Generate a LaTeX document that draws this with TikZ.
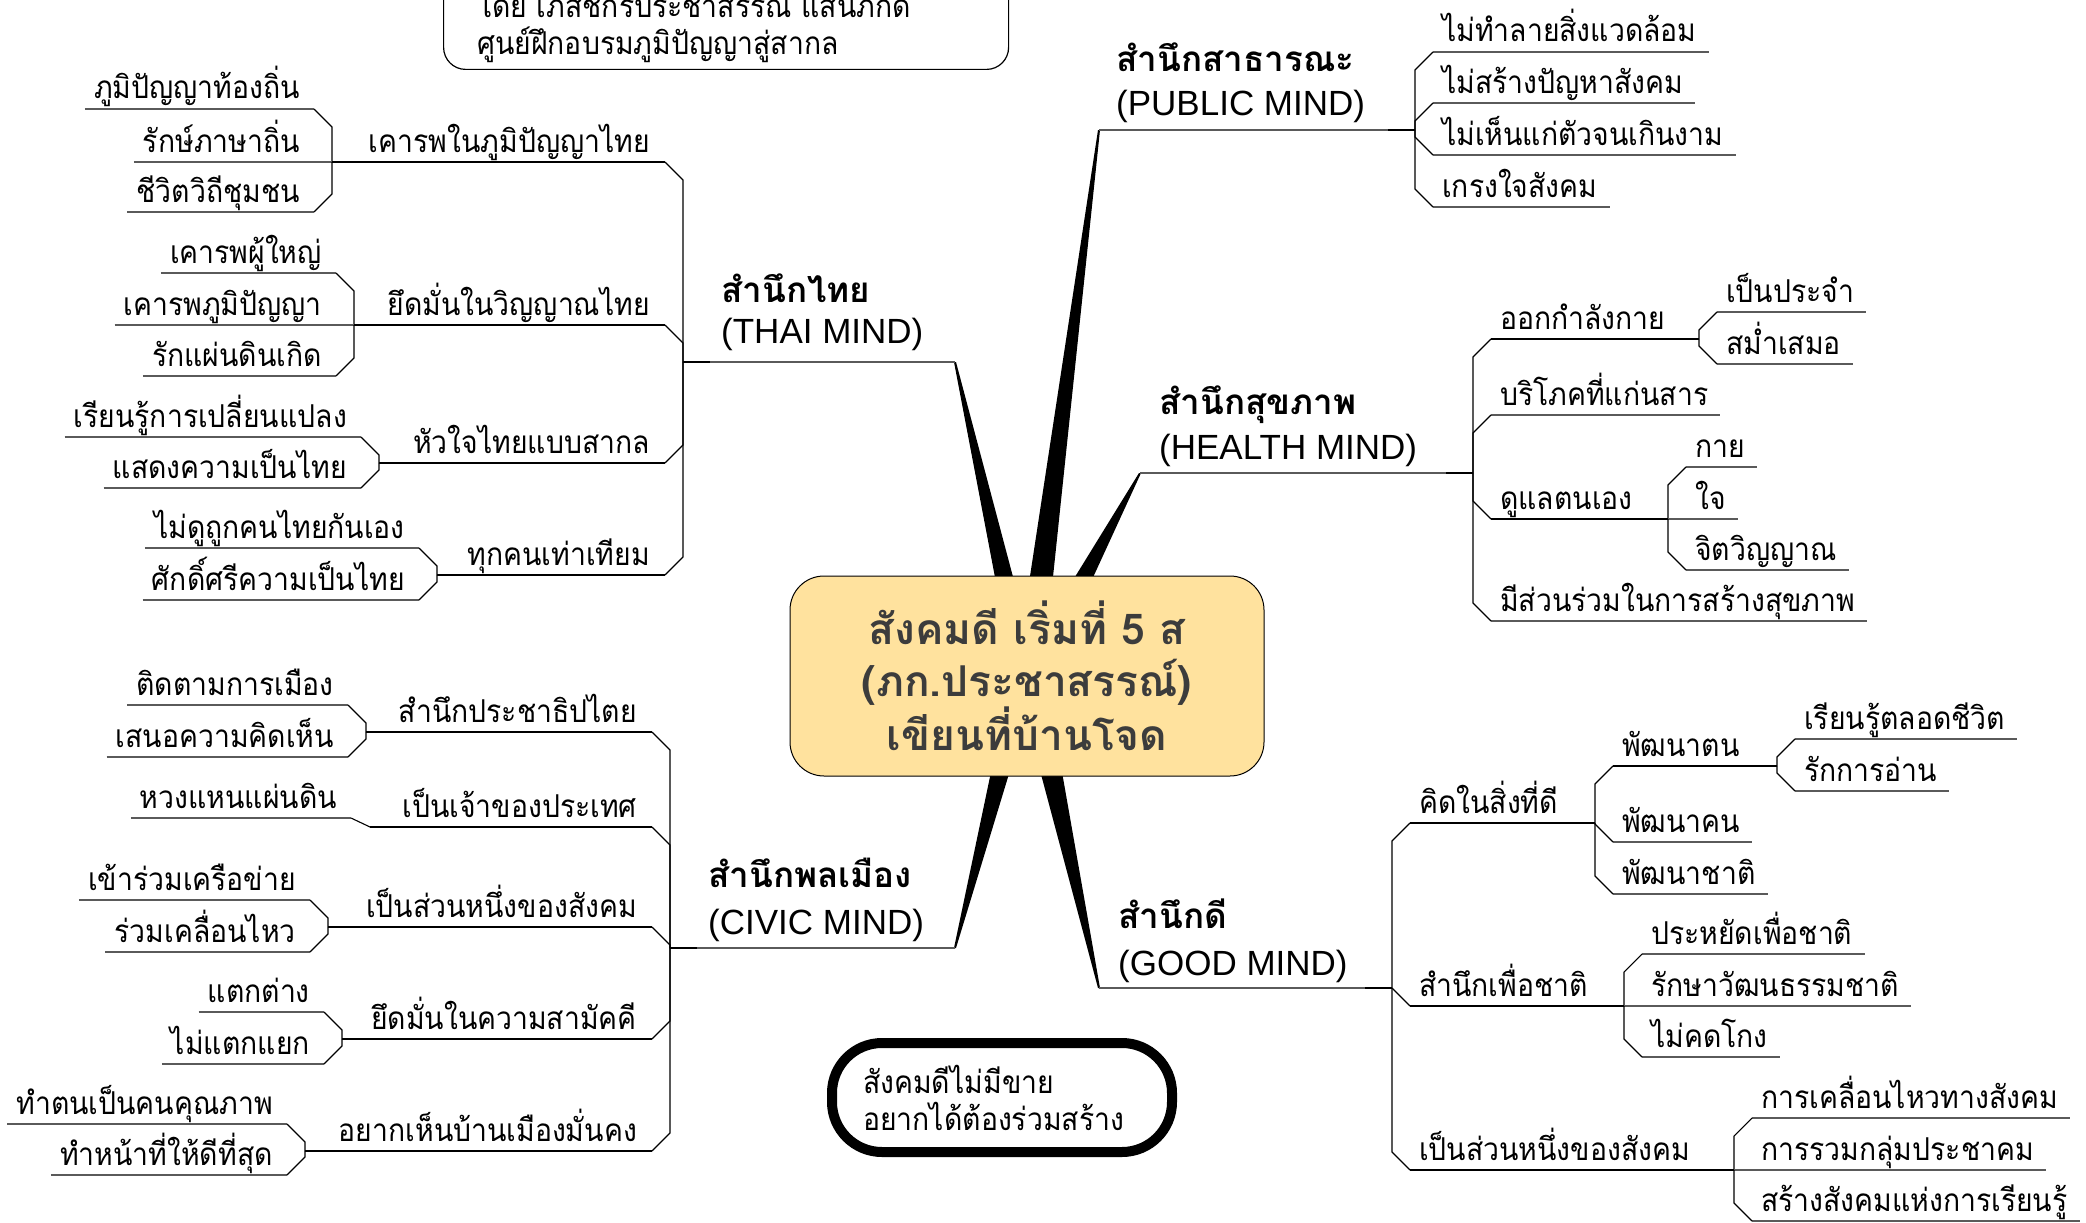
\documentclass[tikz,border=0pt]{standalone}
\usepackage{fontspec}
\newfontfamily\thaifont[Script=Thai]{Loma}
\newfontfamily\thainarrow[Script=Thai,FakeStretch=0.9]{Loma}
\newfontfamily\latinfont{Liberation Sans}
\usetikzlibrary{calc}
\definecolor{hubfill}{HTML}{FFE29E}
\definecolor{hubtext}{HTML}{3C3C3C}
\definecolor{lgray}{HTML}{5A5A5A}
\tikzset{
  lf/.style={font=\thainarrow\fontsize{31.5}{37}\selectfont, inner sep=0pt},
  mth/.style={font=\thaifont\bfseries\fontsize{35}{40}\selectfont, inner sep=0pt},
  men/.style={font=\latinfont\fontsize{35}{40}\selectfont, inner sep=0pt},
  ulf/.style={draw=lgray, line width=1.8pt},
  ulp/.style={draw=black, line width=1.5pt},
  brk/.style={draw=black, line width=1.1pt},
  jnt/.style={draw=black, line width=2.6pt},
  wdg/.style={fill=black, draw=none},
}
\newcommand\mmLeafL[4]{%
  \node[lf,anchor=base east] (#1) at ({#2-14},{#3-10}) {#4};
  \coordinate (#1-r) at (#2,#3);
  \draw[ulf] ([xshift=-9pt]#1.west |- #1-r) -- (#1-r);}
\newcommand\mmParL[5]{%
  \node[lf,anchor=base east] (#1) at ({#3-15},{#4-10}) {#5};
  \coordinate (#1-l) at (#2,#4);
  \coordinate (#1-r) at (#3,#4);
  \draw[ulp] (#1-l) -- (#1-r);
  \draw[jnt] (#1-l) -- ++(27,0);}
\newcommand\mmLeafR[4]{%
  \node[lf,anchor=base west] (#1) at ({#2+9},{#3-10}) {#4};
  \coordinate (#1-l) at (#2,#3);
  \draw[ulf] (#1-l) -- ([xshift=12pt]#1.east |- #1-l);}
\newcommand\mmParR[5]{%
  \node[lf,anchor=base west] (#1) at ({#2+9},{#4-10}) {#5};
  \coordinate (#1-l) at (#2,#4);
  \coordinate (#1-r) at (#3,#4);
  \draw[ulp] (#1-l) -- (#1-r);
  \draw[jnt] (#1-r) -- ++(-27,0);}
\newcommand\mmUp[3]{\draw[brk] (#1) -- ++(#3,18) |- (#2);}
\newcommand\mmDn[3]{\draw[brk] (#1) -- ++(#3,-18) |- (#2);}
\newcommand\mmSame[2]{\draw[ulf] (#1) -- (#2);}
\begin{document}
\begin{tikzpicture}[x=1pt,y=-1pt]
\useasboundingbox (0,0) rectangle (2086,1223);
\fill[white] (0,0) rectangle (2086,1223);
\clip (0,0) rectangle (2086,1223);

% ---- main branch anchor coordinates
\coordinate (thai-l) at (683,362); \coordinate (thai-r) at (955,362);
\coordinate (civ-l) at (670,948);  \coordinate (civ-r) at (955,948);
\coordinate (pub-l) at (1099,130); \coordinate (pub-r) at (1415,130);
\coordinate (hl-l) at (1140,473);  \coordinate (hl-r) at (1473,473);
\coordinate (gd-l) at (1099,988);  \coordinate (gd-r) at (1392,988);
% wedge bases (hidden under the hub)
\coordinate (wT1) at (997.8,592); \coordinate (wT2) at (1017,592);
\coordinate (wP1) at (1027.6,592); \coordinate (wP2) at (1051.4,592);
\coordinate (wH1) at (1065.7,592); \coordinate (wH2) at (1086.3,592);
\coordinate (wC1) at (992.9,763); \coordinate (wC2) at (1012.3,763);
\coordinate (wG1) at (1038,763); \coordinate (wG2) at (1060.4,763);

\fill[wdg] ($(thai-r)+(-1,0)$) -- ($(thai-r)+(1,0)$) -- (wT2) -- (wT1) -- cycle;
\fill[wdg] ($(pub-l)+(-1,0)$) -- ($(pub-l)+(1,0)$) -- (wP2) -- (wP1) -- cycle;
\fill[wdg] ($(hl-l)+(-1,0)$) -- ($(hl-l)+(1,0)$) -- (wH2) -- (wH1) -- cycle;
\fill[wdg] ($(civ-r)+(-1,0)$) -- ($(civ-r)+(1,0)$) -- (wC2) -- (wC1) -- cycle;
\fill[wdg] ($(gd-l)+(-1,0)$) -- ($(gd-l)+(1,0)$) -- (wG2) -- (wG1) -- cycle;

% ---- hub
\node[draw=black, line width=1pt, fill=hubfill, rounded corners=34pt,
  minimum width=474pt, minimum height=200pt, align=center, text=hubtext,
  font=\thaifont\bfseries\fontsize{42.5}{52}\selectfont, inner sep=0pt]
  (hub) at (1027,676) {สังคมดี เริ่มที่ 5 ส\\(ภก.ประชาสรรณ์)\\เขียนที่บ้านโจด};

% ---- top note
\node[draw=black, line width=1.2pt, rounded corners=22pt, minimum width=565pt,
  minimum height=150pt, anchor=south west, inner sep=0pt] (notebox) at (443,70) {};
\node[lf,anchor=base west] (note1) at (477,18) {โดย เภสัชกรประชาสรรณ์ แสนภักดี};
\node[lf,anchor=base west] (note2) at (477,55) {ศูนย์ฝึกอบรมภูมิปัญญาสู่สากล};

% ---- motto
\draw[line width=10pt, rounded corners=50pt] (832,1043) rectangle (1172,1152);
\node[lf,anchor=base west] (motto1) at (863,1093) {สังคมดีไม่มีขาย};
\node[lf,anchor=base west] (motto2) at (863,1130) {อยากได้ต้องร่วมสร้าง};

% ================= THAI MIND
\node[mth,anchor=base west] (thaiA) at (721,302) {สำนึกไทย};
\node[men,anchor=base west] (thaiB) at (721,343) {(THAI MIND)};
\draw[ulf] (thai-l) -- (thai-r); \draw[jnt] (thai-l) -- ++(27,0);
\mmParL{t1}{332}{665}{162}{เคารพในภูมิปัญญาไทย}
\mmParL{t2}{354}{665}{325}{ยึดมั่นในวิญญาณไทย}
\mmParL{t3}{379}{665}{463}{หัวใจไทยแบบสากล}
\mmParL{t4}{437}{665}{575}{ทุกคนเท่าเทียม}
\mmUp{t1-r}{thai-l}{18} \mmUp{t2-r}{thai-l}{18}
\mmDn{t3-r}{thai-l}{18} \mmDn{t4-r}{thai-l}{18}
\mmLeafL{t1a}{314}{109}{ภูมิปัญญาท้องถิ่น}
\mmLeafL{t1b}{314}{162}{รักษ์ภาษาถิ่น}
\mmLeafL{t1c}{314}{212}{ชีวิตวิถีชุมชน}
\mmUp{t1a-r}{t1-l}{18} \mmSame{t1b-r}{t1-l} \mmDn{t1c-r}{t1-l}{18}
\mmLeafL{t2a}{336}{273}{เคารพผู้ใหญ่}
\mmLeafL{t2b}{336}{325}{เคารพภูมิปัญญา}
\mmLeafL{t2c}{336}{376}{รักแผ่นดินเกิด}
\mmUp{t2a-r}{t2-l}{18} \mmSame{t2b-r}{t2-l} \mmDn{t2c-r}{t2-l}{18}
\mmLeafL{t3a}{361}{437}{เรียนรู้การเปลี่ยนแปลง}
\mmLeafL{t3b}{361}{488}{แสดงความเป็นไทย}
\mmUp{t3a-r}{t3-l}{18} \mmDn{t3b-r}{t3-l}{18}
\mmLeafL{t4a}{419}{548}{ไม่ดูถูกคนไทยกันเอง}
\mmLeafL{t4b}{419}{600}{ศักดิ์ศรีความเป็นไทย}
\mmUp{t4a-r}{t4-l}{18} \mmDn{t4b-r}{t4-l}{18}

% ================= CIVIC MIND
\node[mth,anchor=base west] (civA) at (708,887) {สำนึกพลเมือง};
\node[men,anchor=base west] (civB) at (708,934) {(CIVIC MIND)};
\draw[ulf] (civ-l) -- (civ-r); \draw[jnt] (civ-l) -- ++(27,0);
\mmParL{c1}{366}{652}{732}{สำนึกประชาธิปไตย}
\node[lf,anchor=base east] (c2) at (637,817) {เป็นเจ้าของประเทศ};
\coordinate (c2-l) at (370,827); \coordinate (c2-r) at (652,827);
\draw[ulp] (c2-l) -- (c2-r);
\mmParL{c3}{328}{652}{927}{เป็นส่วนหนึ่งของสังคม}
\mmParL{c4}{342}{652}{1039}{ยึดมั่นในความสามัคคี}
\mmParL{c5}{305}{652}{1151}{อยากเห็นบ้านเมืองมั่นคง}
\mmUp{c1-r}{civ-l}{18} \mmUp{c2-r}{civ-l}{18} \mmUp{c3-r}{civ-l}{18}
\mmDn{c4-r}{civ-l}{18} \mmDn{c5-r}{civ-l}{18}
\mmLeafL{c1a}{348}{705}{ติดตามการเมือง}
\mmLeafL{c1b}{348}{757}{เสนอความคิดเห็น}
\mmUp{c1a-r}{c1-l}{18} \mmDn{c1b-r}{c1-l}{18}
\mmLeafL{c2a}{351}{818}{หวงแหนแผ่นดิน}
\draw[brk] (c2a-r) -- (c2-l);
\mmLeafL{c3a}{310}{900}{เข้าร่วมเครือข่าย}
\mmLeafL{c3b}{310}{952}{ร่วมเคลื่อนไหว}
\mmUp{c3a-r}{c3-l}{18} \mmDn{c3b-r}{c3-l}{18}
\mmLeafL{c4a}{324}{1012}{แตกต่าง}
\mmLeafL{c4b}{324}{1064}{ไม่แตกแยก}
\mmUp{c4a-r}{c4-l}{18} \mmDn{c4b-r}{c4-l}{18}
\mmLeafL{c5a}{287}{1124}{ทำตนเป็นคนคุณภาพ}
\mmLeafL{c5b}{287}{1175}{ทำหน้าที่ให้ดีที่สุด}
\mmUp{c5a-r}{c5-l}{18} \mmDn{c5b-r}{c5-l}{18}

% ================= PUBLIC MIND
\node[mth,anchor=base west] (pubA) at (1116,72) {สำนึกสาธารณะ};
\node[men,anchor=base west] (pubB) at (1116,115) {(PUBLIC MIND)};
\draw[ulf] (pub-l) -- (pub-r); \draw[jnt] (pub-r) -- ++(-27,0);
\mmLeafR{p1}{1433}{52}{ไม่ทำลายสิ่งแวดล้อม}
\mmLeafR{p2}{1433}{103}{ไม่สร้างปัญหาสังคม}
\mmLeafR{p3}{1433}{155}{ไม่เห็นแก่ตัวจนเกินงาม}
\mmLeafR{p4}{1433}{207}{เกรงใจสังคม}
\mmUp{p1-l}{pub-r}{-18} \mmUp{p2-l}{pub-r}{-18}
\mmDn{p3-l}{pub-r}{-18} \mmDn{p4-l}{pub-r}{-18}

% ================= HEALTH MIND
\node[mth,anchor=base west] (hlA) at (1159,414) {สำนึกสุขภาพ};
\node[men,anchor=base west] (hlB) at (1159,459) {(HEALTH MIND)};
\draw[ulf] (hl-l) -- (hl-r); \draw[jnt] (hl-r) -- ++(-27,0);
\mmParR{h1}{1491}{1699}{339}{ออกกำลังกาย}
\mmLeafR{h2}{1491}{415}{บริโภคที่แก่นสาร}
\mmParR{h3}{1491}{1668}{519}{ดูแลตนเอง}
\mmLeafR{h4}{1491}{621}{มีส่วนร่วมในการสร้างสุขภาพ}
\mmUp{h1-l}{hl-r}{-18} \mmUp{h2-l}{hl-r}{-18}
\mmDn{h3-l}{hl-r}{-18} \mmDn{h4-l}{hl-r}{-18}
\mmLeafR{h1a}{1717}{312}{เป็นประจำ}
\mmLeafR{h1b}{1717}{364}{สม่ำเสมอ}
\mmUp{h1a-l}{h1-r}{-18} \mmDn{h1b-l}{h1-r}{-18}
\mmLeafR{h3a}{1686}{467}{กาย}
\mmLeafR{h3b}{1686}{519}{ใจ}
\mmLeafR{h3c}{1686}{570}{จิตวิญญาณ}
\mmUp{h3a-l}{h3-r}{-18} \mmSame{h3b-l}{h3-r} \mmDn{h3c-l}{h3-r}{-18}

% ================= GOOD MIND
\node[mth,anchor=base west] (gdA) at (1118,928) {สำนึกดี};
\node[men,anchor=base west] (gdB) at (1118,975) {(GOOD MIND)};
\draw[ulf] (gd-l) -- (gd-r); \draw[jnt] (gd-r) -- ++(-27,0);
\mmParR{g1}{1410}{1595}{823}{คิดในสิ่งที่ดี}
\mmParR{g2}{1410}{1624}{1006}{สำนึกเพื่อชาติ}
\mmParR{g3}{1410}{1734}{1170}{เป็นส่วนหนึ่งของสังคม}
\mmUp{g1-l}{gd-r}{-18} \mmDn{g2-l}{gd-r}{-18} \mmDn{g3-l}{gd-r}{-18}
\mmParR{g1a}{1613}{1777}{766}{พัฒนาตน}
\mmLeafR{g1b}{1613}{842}{พัฒนาคน}
\mmLeafR{g1c}{1613}{894}{พัฒนาชาติ}
\mmUp{g1a-l}{g1-r}{-18} \mmDn{g1b-l}{g1-r}{-18} \mmDn{g1c-l}{g1-r}{-18}
\mmLeafR{g1a1}{1795}{739}{เรียนรู้ตลอดชีวิต}
\mmLeafR{g1a2}{1795}{791}{รักการอ่าน}
\mmUp{g1a1-l}{g1a-r}{-18} \mmDn{g1a2-l}{g1a-r}{-18}
\mmLeafR{g2a}{1642}{954}{ประหยัดเพื่อชาติ}
\mmLeafR{g2b}{1642}{1006}{รักษาวัฒนธรรมชาติ}
\mmLeafR{g2c}{1642}{1057}{ไม่คดโกง}
\mmUp{g2a-l}{g2-r}{-18} \mmSame{g2b-l}{g2-r} \mmDn{g2c-l}{g2-r}{-18}
\mmLeafR{g3a}{1752}{1118}{การเคลื่อนไหวทางสังคม}
\mmLeafR{g3b}{1752}{1170}{การรวมกลุ่มประชาคม}
\mmLeafR{g3c}{1752}{1221}{สร้างสังคมแห่งการเรียนรู้}
\mmUp{g3a-l}{g3-r}{-18} \mmSame{g3b-l}{g3-r} \mmDn{g3c-l}{g3-r}{-18}
\end{tikzpicture}
\end{document}
